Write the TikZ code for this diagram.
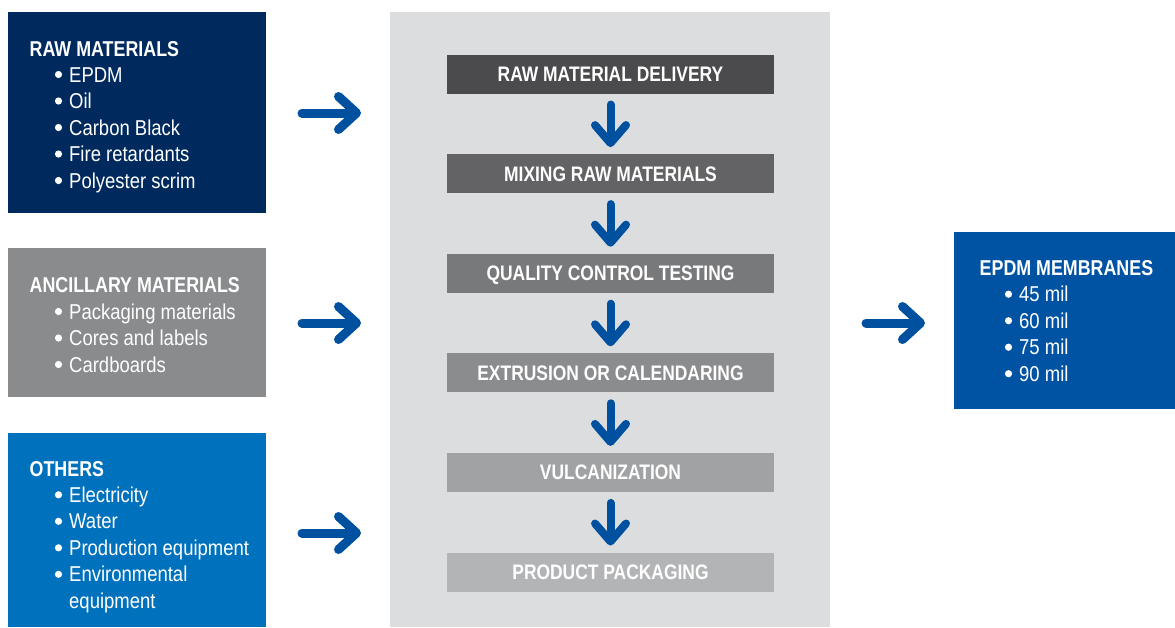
\documentclass[tikz,border=0pt]{standalone}
\usepackage{fontspec}
\setmainfont{Liberation Sans}
\newfontfamily\hdf{Liberation Sans}[FakeStretch=0.83]
\newfontfamily\bdf{Liberation Sans}[FakeStretch=0.86]
\usetikzlibrary{arrows.meta,calc}
\definecolor{navy}{HTML}{002A5E}
\definecolor{ancgray}{HTML}{898B8D}
\definecolor{othblue}{HTML}{0071BC}
\definecolor{memblue}{HTML}{0052A2}
\definecolor{arrblue}{HTML}{0050A0}
\definecolor{panelgray}{HTML}{DCDDDF}
\definecolor{sa}{HTML}{4B4B4D}
\definecolor{sb}{HTML}{636365}
\definecolor{sc}{HTML}{78797B}
\definecolor{sd}{HTML}{8B8C8E}
\definecolor{se}{HTML}{A1A2A4}
\definecolor{sf}{HTML}{B3B4B6}
\tikzset{
  areabox/.style={draw=none, inner sep=0pt, outer sep=0pt, anchor=north west},
  ttl/.style={text=white, inner sep=0pt, anchor=base west, font=\hdf\bfseries\fontsize{21.5}{25}\selectfont},
  bul/.style={text=white, inner sep=0pt, anchor=base west, font=\bdf\fontsize{21.5}{26}\selectfont},
  dot/.style={fill=white, draw=none},
  stepbox/.style={draw=none, inner sep=0pt, outer sep=0pt, minimum width=327pt, minimum height=39pt,
    text height=15pt, text depth=0pt, text=white, font=\hdf\bfseries\fontsize{21}{25}\selectfont},
  harr/.style={line width=9pt, draw=arrblue, line cap=round, -{Straight Barb[length=18pt,width=33pt,round]}},
  darr/.style={line width=8pt, draw=arrblue, line cap=round, -{Straight Barb[length=18pt,width=31pt,round]}}
}
\begin{document}
\begin{tikzpicture}[x=1pt,y=-1pt]
\useasboundingbox (0,0) rectangle (1175,627);
% left boxes
\node[areabox, fill=navy, minimum width=258pt, minimum height=201pt] (raw) at (8,12) {};
\node[areabox, fill=ancgray, minimum width=258pt, minimum height=149pt] (anc) at (8,248) {};
\node[areabox, fill=othblue, minimum width=258pt, minimum height=194pt] (oth) at (8,433) {};
% panel
\node[areabox, fill=panelgray, minimum width=440pt, minimum height=615pt] (panel) at (390,12) {};
% output box
\node[areabox, fill=memblue, minimum width=221pt, minimum height=177pt] (mem) at (954,232) {};

% raw materials text
\node[ttl] (rawt) at (29.5,56) {RAW MATERIALS};
\node[bul] (raw1) at (69,82) {EPDM};
\node[bul] (raw2) at (69,108.5) {Oil};
\node[bul] (raw3) at (69,135) {Carbon Black};
\node[bul] (raw4) at (69,161.5) {Fire retardants};
\node[bul] (raw5) at (69,188) {Polyester scrim};
% ancillary
\node[ttl] (anct) at (29.5,292) {ANCILLARY MATERIALS};
\node[bul] (anc1) at (69,319) {Packaging materials};
\node[bul] (anc2) at (69,345.5) {Cores and labels};
\node[bul] (anc3) at (69,372) {Cardboards};
% others
\node[ttl] (otht) at (29.5,476) {OTHERS};
\node[bul] (oth1) at (69,502.3) {Electricity};
\node[bul] (oth2) at (69,528.8) {Water};
\node[bul] (oth3) at (69,555.3) {Production equipment};
\node[bul] (oth4) at (69,581.8) {Environmental};
\node[bul] (oth5) at (69,608.3) {equipment};
% membranes
\node[ttl] (memt) at (979.5,275) {EPDM MEMBRANES};
\node[bul] (mem1) at (1019,301.7) {45 mil};
\node[bul] (mem2) at (1019,328.2) {60 mil};
\node[bul] (mem3) at (1019,354.7) {75 mil};
\node[bul] (mem4) at (1019,381.2) {90 mil};
% bullets
\foreach \n in {raw1,raw2,raw3,raw4,raw5,anc1,anc2,anc3,oth1,oth2,oth3,oth4,mem1,mem2,mem3,mem4}
  \fill[dot] ($(\n.base west)+(-10.5,-7.5)$) circle (3.6pt);

% steps
\node[stepbox, fill=sa] (s1) at (610.5,74) {RAW MATERIAL DELIVERY};
\node[stepbox, fill=sb] (s2) at (610.5,173.6) {MIXING RAW MATERIALS};
\node[stepbox, fill=sc] (s3) at (610.5,273.2) {QUALITY CONTROL TESTING};
\node[stepbox, fill=sd] (s4) at (610.5,372.8) {EXTRUSION OR CALENDARING};
\node[stepbox, fill=se] (s5) at (610.5,472.4) {VULCANIZATION};
\node[stepbox, fill=sf] (s6) at (610.5,572) {PRODUCT PACKAGING};

% down arrows
\draw[darr] ([yshift=-11pt]s1.south) -- ([yshift=7pt]s2.north);
\draw[darr] ([yshift=-11pt]s2.south) -- ([yshift=7pt]s3.north);
\draw[darr] ([yshift=-11pt]s3.south) -- ([yshift=7pt]s4.north);
\draw[darr] ([yshift=-11pt]s4.south) -- ([yshift=7pt]s5.north);
\draw[darr] ([yshift=-11pt]s5.south) -- ([yshift=7pt]s6.north);

% horizontal arrows
\draw[harr] ($(raw.east)+(36,0.5)$) -- ($(panel.west |- raw.east)+(-29,0.5)$);
\draw[harr] ($(anc.east)+(36,0.5)$) -- ($(panel.west |- anc.east)+(-29,0.5)$);
\draw[harr] ($(oth.east)+(36,3)$) -- ($(panel.west |- oth.east)+(-29,3)$);
\draw[harr] ($(panel.east |- mem.west)+(36,2.5)$) -- ($(mem.west)+(-29,2.5)$);
\end{tikzpicture}
\end{document}
